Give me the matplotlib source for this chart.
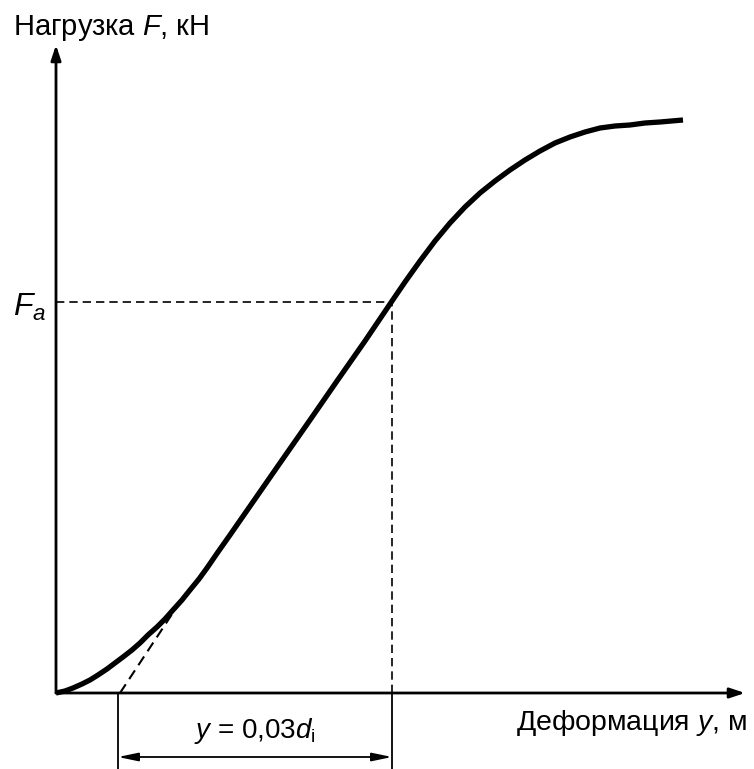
import matplotlib.pyplot as plt

# кривая нагрузка - деформация (условные единицы)
defl = [0, 9, 17, 26, 34, 42, 51, 59, 67, 76, 84, 92, 101, 109, 117, 126,
        134, 143, 151, 162, 174, 199, 224, 254, 281, 309, 334, 349, 364, 379,
        394, 409, 424, 439, 454, 469, 484, 499, 514, 529, 544, 559, 574, 589,
        604, 627]
load = [0, 2, 5, 9, 13, 18, 24, 30, 36, 43, 50, 58, 66, 74, 83, 93,
        103, 114, 125, 141, 158, 194, 230, 273, 312, 352, 389, 411, 432, 452,
        470, 486, 500, 512, 523, 533, 542, 550, 556, 561, 565, 567, 568, 570,
        571, 573]

# касательная к начальному участку
tang_x = [64, 130]
tang_y = [0, 100]

F_a = 391      # нагрузка F_a
y_a = 336      # деформация при F_a
y_start = 62   # начало отсчёта деформации

x_max = 689
y_max = 648

plt.rcParams['font.family'] = ['Liberation Sans', 'DejaVu Sans']
plt.rcParams['mathtext.fontset'] = 'custom'
plt.rcParams['mathtext.rm'] = 'Liberation Sans'
plt.rcParams['mathtext.it'] = 'Liberation Sans:italic'

fig = plt.figure(figsize=(7.54, 7.69), dpi=100)
ax = fig.add_axes([0, 0, 1, 1])
ax.set_xlim(-56, 698)
ax.set_ylim(-76, 693)
ax.axis('off')

# оси со стрелками
ax.annotate('', xy=(x_max, 0), xytext=(0, 0),
            arrowprops=dict(arrowstyle='-|>,head_length=0.9,head_width=0.3',
                            color='black', lw=2, shrinkA=0, shrinkB=0))
ax.annotate('', xy=(0, y_max), xytext=(0, 0),
            arrowprops=dict(arrowstyle='-|>,head_length=0.9,head_width=0.3',
                            color='black', lw=2, shrinkA=0, shrinkB=0))

# основная кривая
ax.plot(defl, load, color='black', lw=3.8, solid_capstyle='butt',
        solid_joinstyle='round')

# вспомогательные штриховые линии
ax.plot([0, y_a], [F_a, F_a], color='black', lw=1.2, ls=(0, (5, 3)))
ax.plot([y_a, y_a], [0, F_a], color='black', lw=1.2, ls=(0, (5, 3)))
ax.plot(tang_x, tang_y, color='black', lw=1.5, ls=(0, (5, 3)))

# размерная линия
ax.plot([y_start, y_start], [0, -76], color='black', lw=1.3)
ax.plot([y_a, y_a], [0, -76], color='black', lw=1.3)
ax.annotate('', xy=(y_a, -64), xytext=(y_start, -64),
            arrowprops=dict(arrowstyle='<|-|>,head_length=1.2,head_width=0.25',
                            color='black', lw=1.3, shrinkA=0, shrinkB=0))
ax.text((y_start + y_a) / 2, -38, r'$y$ = 0,03$d_{\mathrm{i}}$',
        fontsize=20, ha='center', va='center')

# подписи
ax.text(-43, 665, r'Нагрузка $F$, кН', fontsize=21, ha='left', va='center')
ax.text(691, -30, r'Деформация $y$, м', fontsize=20.5, ha='right', va='center')
ax.text(-43, F_a - 5, r'$F_a$', fontsize=23, ha='left', va='center')

plt.savefig('out.png', dpi=100)
